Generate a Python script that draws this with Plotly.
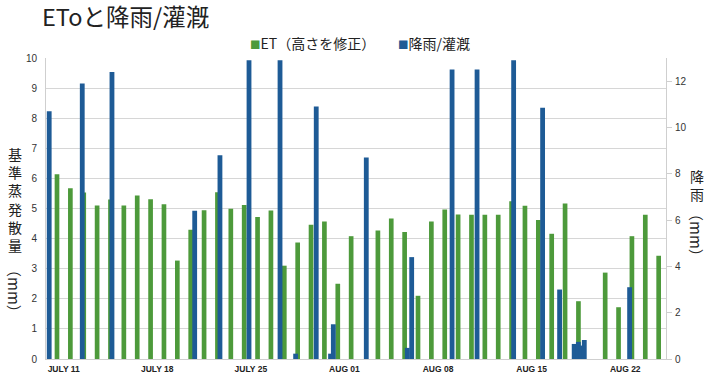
import plotly.graph_objects as go
import pandas as pd

# ---- data ----
et_days = pd.date_range("2023-07-10 12:00", "2023-08-24 12:00", freq="D")
et_values = [6.14, 5.67, 5.53, 5.10, 5.30, 5.10, 5.43, 5.31, 5.14, 3.27,
             4.29, 4.94, 5.54, 4.99, 5.12, 4.72, 4.93, 3.10, 3.87, 4.46,
             4.57, 2.50, 4.08, None, 4.27, 4.67, 4.22, 2.10, 4.57, 4.97,
             4.80, 4.79, 4.79, 4.79, 5.24, 5.09, 4.62, 4.16, 5.17, 1.92,
             None, 2.87, 1.72, 4.08, 4.79, 3.43]

rain_times = ["2023-07-09 22:00", "2023-07-12 09:20", "2023-07-14 14:40",
              "2023-07-20 19:10", "2023-07-22 16:30", "2023-07-24 20:40",
              "2023-07-27 04:20", "2023-07-28 08:20", "2023-07-29 21:20",
              "2023-07-30 23:00", "2023-07-31 04:00", "2023-08-02 15:10",
              "2023-08-05 16:50", "2023-08-06 00:40", "2023-08-09 01:10",
              "2023-08-10 22:00", "2023-08-13 15:40", "2023-08-15 19:40",
              "2023-08-17 02:10", "2023-08-18 04:20", "2023-08-18 11:50",
              "2023-08-18 16:50", "2023-08-18 22:30", "2023-08-22 07:50"]
rain_values = [10.7, 11.9, 12.4, 6.4, 8.8, 12.9, 12.9, 0.23, 10.9, 0.23,
               1.5, 8.7, 0.48, 4.4, 12.5, 12.5, 12.9, 10.85, 3.0, 0.65,
               0.74, 0.58, 0.82, 3.1]

tick_dates = ["2023-07-11", "2023-07-18", "2023-07-25", "2023-08-01",
              "2023-08-08", "2023-08-15", "2023-08-22"]
tick_labels = ["JULY 11", "JULY 18", "JULY 25", "AUG 01", "AUG 08", "AUG 15", "AUG 22"]

left_title = "基準蒸発散量"
right_title = "降雨"

GREEN = "#4d9a3b"
BLUE = "#1e5b96"
CJK = "Noto Sans CJK JP"
DAY_MS = 86400000

fig = go.Figure()
fig.add_trace(go.Bar(x=et_days, y=et_values, name="ET（高さを修正）",
                     marker=dict(color=GREEN, line=dict(width=0)),
                     width=0.35 * DAY_MS, yaxis="y"))
fig.add_trace(go.Bar(x=pd.to_datetime(rain_times), y=rain_values, name="降雨/灌漑",
                     marker=dict(color=BLUE, line=dict(width=0)),
                     width=0.36 * DAY_MS, yaxis="y2"))

W, H = 709, 375
ml, mr, mt, mb = 46, 43, 58, 16
PW, PH = W - ml - mr, H - mt - mb

fig.update_layout(
    width=W, height=H,
    margin=dict(l=ml, r=mr, t=mt, b=mb, pad=0, autoexpand=False),
    paper_bgcolor="white", plot_bgcolor="white",
    barmode="overlay", showlegend=False,
    font=dict(family=CJK, color="#333333"),
    title=dict(text="EToと降雨/灌漑", x=42 / W, xanchor="left",
               y=1 - 18 / H, yanchor="middle",
               font=dict(family=CJK, size=23.5, color="#222222")),
    xaxis=dict(type="date", range=["2023-07-09 16:15", "2023-08-25 01:10"],
               tickvals=pd.to_datetime(tick_dates), ticktext=tick_labels,
               tickfont=dict(family="Liberation Sans", size=8.5, color="#222222",
                             weight="bold"),
               showgrid=False, showline=True, linecolor="#cfcfcf", linewidth=1,
               ticks="", ticklabelstandoff=2, zeroline=False, automargin=False),
    yaxis=dict(range=[0, 10], dtick=1, showgrid=True, gridcolor="#d6d6d6",
               gridwidth=1, showline=True, linecolor="#cfcfcf", ticks="",
               tickfont=dict(family="Liberation Sans", size=10, color="#333333"),
               ticklabelstandoff=6, zeroline=False, automargin=False),
    yaxis2=dict(range=[0, 13], tickvals=[0, 2, 4, 6, 8, 10, 12], overlaying="y",
                side="right", showgrid=False, showline=True, linecolor="#cfcfcf",
                ticks="outside", ticklen=5, tickcolor="#cfcfcf",
                tickfont=dict(family="Liberation Sans", size=10, color="#333333"),
                ticklabelstandoff=1, zeroline=False, automargin=False),
)

annotations = []
# left axis title (vertical writing: stacked CJK + rotated unit)
annotations.append(dict(text="<br>".join(left_title), xref="paper", yref="paper",
                        x=-31 / PW, y=(H - mb - 199) / PH,
                        showarrow=False, xanchor="center", yanchor="middle",
                        font=dict(family=CJK, size=14, color="#222222")))
annotations.append(dict(text="（mm）", xref="paper", yref="paper", textangle=90,
                        x=-31 / PW, y=(H - mb - 291) / PH,
                        showarrow=False, xanchor="center", yanchor="middle",
                        font=dict(family=CJK, size=15, color="#222222")))
# right axis title
annotations.append(dict(text="<br>".join(right_title), xref="paper", yref="paper",
                        x=(697 - ml) / PW, y=(H - mb - 185) / PH,
                        showarrow=False, xanchor="center", yanchor="middle",
                        font=dict(family=CJK, size=14, color="#222222")))
annotations.append(dict(text="（mm）", xref="paper", yref="paper", textangle=90,
                        x=(697 - ml) / PW, y=(H - mb - 235) / PH,
                        showarrow=False, xanchor="center", yanchor="middle",
                        font=dict(family=CJK, size=15, color="#222222")))
# legend
legend_items = [(fig.data[0].name, GREEN, 248), (fig.data[1].name, BLUE, 396)]
for name, col, px in legend_items:
    annotations.append(dict(
        text=f"<span style='color:{col};font-size:10.5px'>■</span>{name}",
        xref="paper", yref="paper", x=(px - ml) / PW,
        y=(H - mb - 43) / PH, xanchor="left", yanchor="middle",
        showarrow=False, font=dict(family=CJK, size=14, color="#222222")))
fig.update_layout(annotations=annotations)

fig.write_html("out.html", config={"displayModeBar": False},
               post_script="document.body.style.margin='0px';document.body.style.overflow='hidden';")
